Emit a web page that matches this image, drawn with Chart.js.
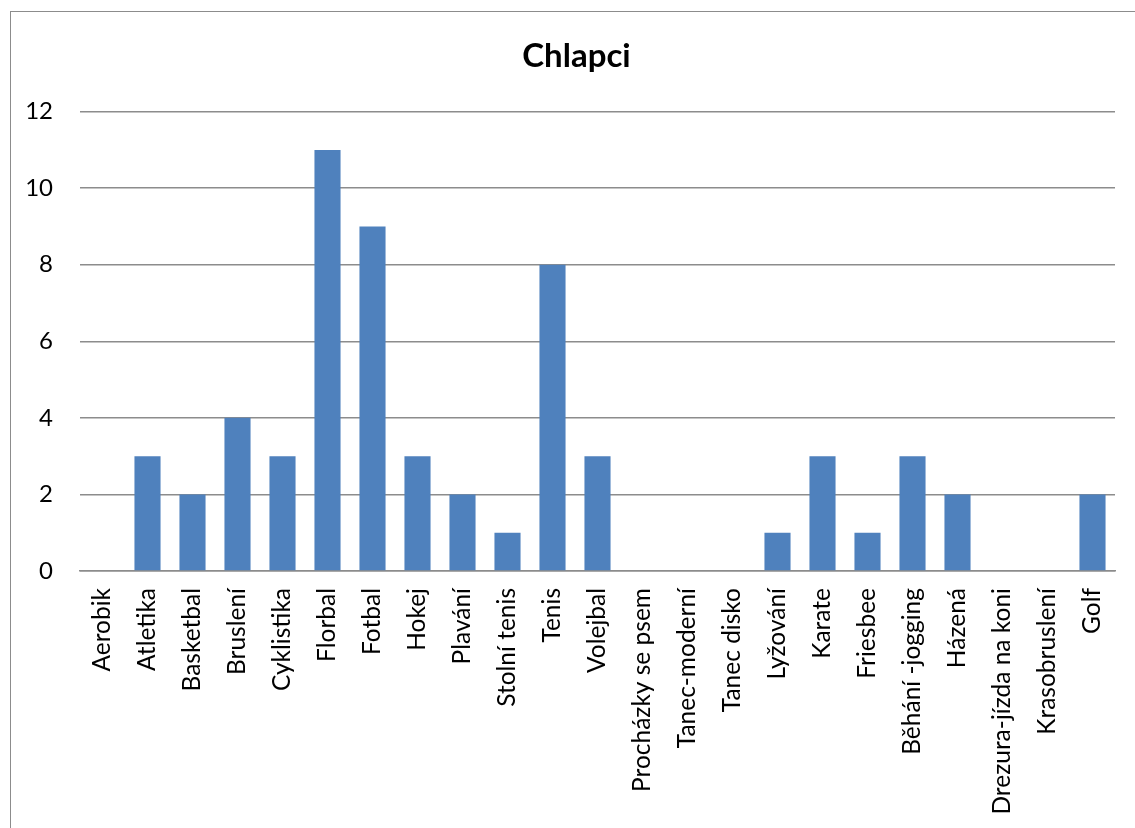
<!DOCTYPE html>
<html>
<head>
<meta charset="utf-8">
<script src="https://cdn.jsdelivr.net/npm/chart.js@4"></script>
<style>
  html, body { margin: 0; padding: 0; background: #fff; overflow: hidden; }
  #box {
    position: absolute; left: 10px; top: 11px;
    width: 1138px; height: 817px;
    border-left: 1.5px solid #8c8c8c; border-top: 1.5px solid #8c8c8c;
  }
</style>
</head>
<body>
<div id="box"><canvas id="myChart"></canvas></div>
<script>
const sports = ["Aerobik", "Atletika", "Basketbal", "Bruslení", "Cyklistika", "Florbal", "Fotbal",
  "Hokej", "Plavání", "Stolní tenis", "Tenis", "Volejbal", "Procházky se psem", "Tanec-moderní",
  "Tanec disko", "Lyžování", "Karate", "Friesbee", "Běhání -jogging", "Házená",
  "Drezura-jízda na koni", "Krasobruslení", "Golf"];
const boys = [0, 3, 2, 4, 3, 11, 9, 3, 2, 1, 8, 3, 0, 0, 0, 1, 3, 1, 3, 2, 0, 0, 2];
const yTicks = [0, 2, 4, 6, 8, 10, 12];

const font = "Lato, Carlito, Calibri, sans-serif";

// the title in the original sits a bit right of the canvas centre
const shiftTitle = {
  id: 'shiftTitle',
  afterLayout(chart) {
    if (chart.titleBlock) chart.titleBlock.left = 27;
  }
};

const config = {
  type: 'bar',
  data: {
    labels: sports,
    datasets: [{
      label: 'Chlapci',
      data: boys,
      backgroundColor: '#4f81bd',
      borderWidth: 0,
      barPercentage: 0.58,
      categoryPercentage: 1
    }]
  },
  options: {
    responsive: true,
    maintainAspectRatio: false,
    animation: false,
    layout: { padding: { left: 0, right: 34, top: 0, bottom: 0 } },
    plugins: {
      legend: { display: false },
      tooltip: { enabled: false },
      title: {
        display: true,
        text: 'Chlapci',
        color: '#000',
        font: { family: font, size: 33, weight: 'bold' },
        padding: { top: 25, bottom: 35 }
      }
    },
    scales: {
      x: {
        grid: { display: false, drawTicks: false },
        border: { display: true, color: '#8c8c8c', width: 1.5 },
        ticks: {
          color: '#000',
          font: { family: font, size: 24.5 },
          minRotation: 90, maxRotation: 90,
          autoSkip: false,
          padding: 17
        },
        afterFit: s => { s.height = 258; }
      },
      y: {
        min: 0, max: 12,
        afterBuildTicks: s => { s.ticks = yTicks.map(v => ({ value: v })); },
        grid: { color: '#8c8c8c', lineWidth: 1.5, drawTicks: false },
        border: { display: false },
        ticks: {
          color: '#000',
          font: { family: font, size: 24 },
          padding: 27
        },
        afterFit: s => { s.width = 69; }
      }
    }
  },
  plugins: [shiftTitle]
};

new Chart(document.getElementById('myChart'), config);
</script>
</body>
</html>
